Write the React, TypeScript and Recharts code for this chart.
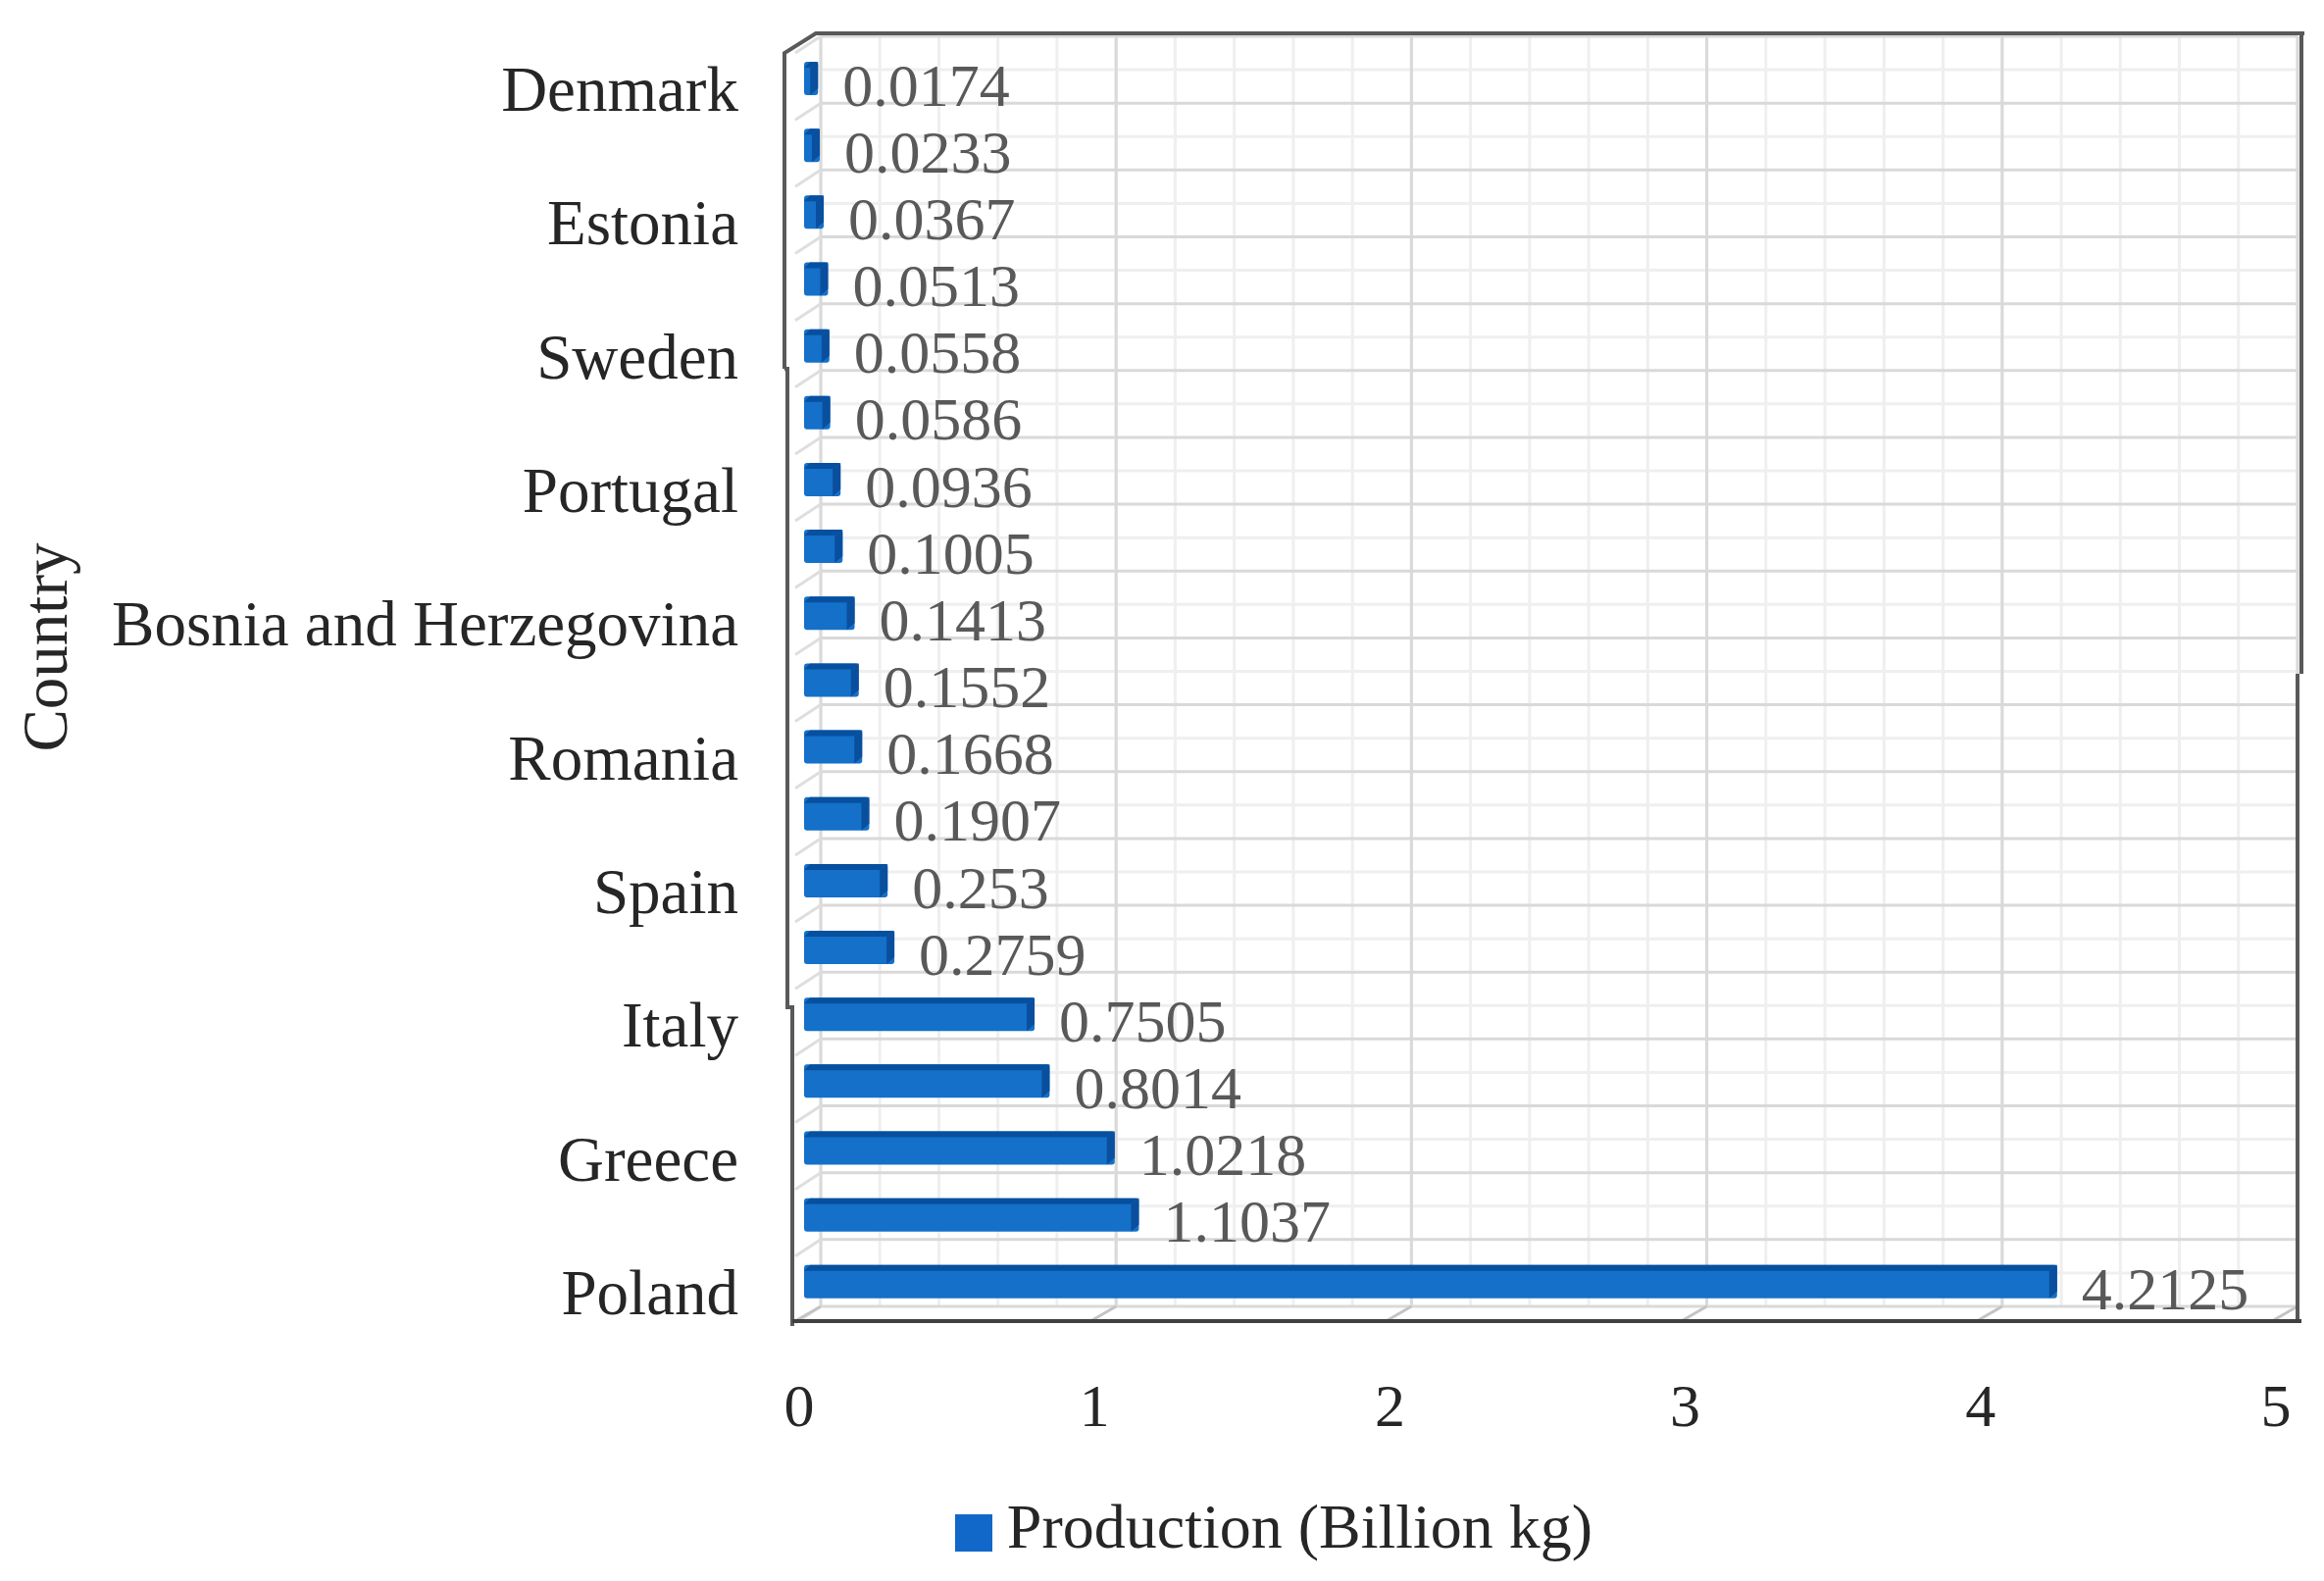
import { BarChart, Bar, XAxis, YAxis, CartesianGrid, Legend, LabelList } from "recharts";

const categories = [
  "Denmark", "", "Estonia", "", "Sweden", "", "Portugal", "", "Bosnia and Herzegovina", "",
  "Romania", "", "Spain", "", "Italy", "", "Greece", "", "Poland",
];
const production = [
  0.0174, 0.0233, 0.0367, 0.0513, 0.0558, 0.0586, 0.0936, 0.1005, 0.1413, 0.1552,
  0.1668, 0.1907, 0.253, 0.2759, 0.7505, 0.8014, 1.0218, 1.1037, 4.2125,
];
const xTicks = [0, 1, 2, 3, 4, 5];

const data = categories.map((country, i) => ({ country, production: production[i] }));

const FONT = "'Liberation Serif', serif";
const LEFT = 837;
const RIGHT = 2343;
const TOP = 37;
const BOTTOM = 1332;
const ROW = (BOTTOM - TOP) / categories.length;
const UNIT = (RIGHT - LEFT) / 5;

const minorX = ({ offset }: any) =>
  Array.from({ length: 26 }, (_, i) => offset.left + (i * offset.width) / 25);
const majorX = ({ offset }: any) =>
  Array.from({ length: 6 }, (_, i) => offset.left + (i * offset.width) / 5);
const minorY = ({ offset }: any) =>
  Array.from({ length: 19 }, (_, i) => offset.top + ((i + 0.5) * offset.height) / 19);
const majorY = ({ offset }: any) =>
  Array.from({ length: 20 }, (_, i) => offset.top + (i * offset.height) / 19);

// fake 3D bar, the front sits left of the wall like the Excel original
function Bar3D({ x, y, width, height }: any) {
  const left = x - 17;
  const right = x + width - 8;
  const top = y + 9;
  const h = height;
  const capLeft = Math.max(right - 8, left);
  return (
    <g>
      <rect x={left} y={top} width={Math.max(right - left, 1)} height={h} rx={3} fill="#1470c9" />
      <polygon
        points={`${left},${top + 6} ${left + 6},${top} ${right},${top} ${capLeft},${top + 6}`}
        fill="#07509f"
      />
      <polygon
        points={`${capLeft},${top + 6} ${right},${top} ${right},${top + h - 7} ${capLeft},${top + h}`}
        fill="#0a4f9e"
      />
    </g>
  );
}

function ValueLabel({ x, y, width, height, value }: any) {
  return (
    <text
      x={x + width + 17}
      y={y + height / 2 + 15}
      dy="0.35em"
      fontFamily={FONT}
      fontSize={62}
      fill="#595959"
    >
      {value}
    </text>
  );
}

// left wall, floor and the front frame, which is broken in the source image
function Frame() {
  const rows = Array.from({ length: 20 }, (_, i) => TOP + i * ROW);
  return (
    <g fill="none">
      {rows.map((y) => (
        <line key={y} x1={LEFT} y1={y} x2={LEFT - 26} y2={y + 17} stroke="#dedede" strokeWidth={3} />
      ))}
      {xTicks.map((t) => (
        <line
          key={t}
          x1={LEFT + t * UNIT}
          y1={BOTTOM}
          x2={LEFT + t * UNIT - 26}
          y2={BOTTOM + 15}
          stroke="#c4c4c4"
          strokeWidth={3}
        />
      ))}
      <g stroke="#595959" strokeWidth={4}>
        <path d="M800 376 L800 54 L832 34 L2350 34" />
        <path d="M2347 34 L2347 687" />
        <path d="M2343 687 L2343 1347" />
        <path d="M800 376 L803 376 L803 1027 L808 1027 L808 1352" />
        <path d="M808 1347 L2347 1347" stroke="#404040" />
      </g>
    </g>
  );
}

export default function App() {
  return (
    <div style={{ position: "absolute", left: 0, top: 0 }}>
      <BarChart
        width={2370}
        height={1612}
        layout="vertical"
        data={data}
        barSize={34}
        margin={{ top: TOP, right: 2370 - RIGHT, bottom: 0, left: 0 }}
      >
        <CartesianGrid
          horizontalCoordinatesGenerator={minorY}
          verticalCoordinatesGenerator={minorX}
          stroke="#efefef"
          strokeWidth={3}
        />
        <CartesianGrid
          horizontalCoordinatesGenerator={majorY}
          verticalCoordinatesGenerator={majorX}
          stroke="#d9d9d9"
          strokeWidth={3}
        />
        <Frame />
        <XAxis
          type="number"
          domain={[0, 5]}
          ticks={xTicks}
          height={1612 - BOTTOM}
          axisLine={false}
          tickLine={false}
          tickSize={0}
          tickMargin={78}
          tick={{ dx: -22, fontFamily: FONT, fontSize: 62, fill: "#262626" }}
        />
        <YAxis
          type="category"
          dataKey="country"
          width={LEFT}
          interval={0}
          axisLine={false}
          tickLine={false}
          tickSize={0}
          tickMargin={84}
          tick={{ dy: 19, fontFamily: FONT, fontSize: 65, fill: "#262626" }}
          label={{
            value: "Country",
            angle: -90,
            position: "insideLeft",
            dx: 40,
            dy: 82,
            fontFamily: FONT,
            fontSize: 65,
            fill: "#262626",
          }}
        />
        <Bar
          dataKey="production"
          name="Production (Billion kg)"
          fill="#1268c8"
          shape={Bar3D}
          isAnimationActive={false}
        >
          <LabelList dataKey="production" content={ValueLabel} />
        </Bar>
        <Legend
          layout="horizontal"
          align="center"
          verticalAlign="middle"
          iconType="square"
          iconSize={38}
          wrapperStyle={{ left: 954, top: 1520, width: 700, fontFamily: FONT, fontSize: 64 }}
          formatter={(v: string) => <span style={{ color: "#262626", marginLeft: 11 }}>{v}</span>}
        />
      </BarChart>
    </div>
  );
}
